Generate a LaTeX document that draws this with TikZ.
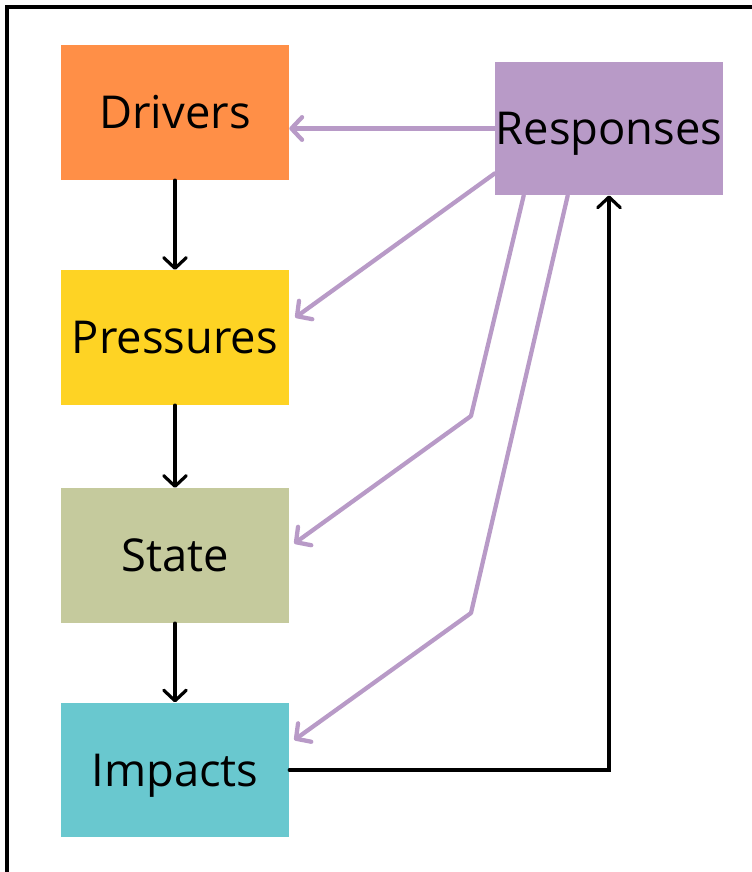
\documentclass[tikz,border=0pt]{standalone}
\usepackage{fontspec}
\setmainfont{Open Sans}
\usetikzlibrary{arrows.meta, calc}
\definecolor{corange}{HTML}{FF8F47}
\definecolor{cyellow}{HTML}{FED324}
\definecolor{csage}{HTML}{C5CA9D}
\definecolor{cteal}{HTML}{69C8CF}
\definecolor{clilac}{HTML}{B89AC7}
\tikzset{
  box/.style={fill=#1, minimum width=171pt, minimum height=101pt, inner sep=0pt,
    font=\fontsize{34}{40}\selectfont, text height=24pt, text depth=0pt},
  flow/.style={-{Straight Barb[length=8pt, width=17pt, round]}, draw=black, line width=2.4pt, line cap=round},
  back/.style={flow, draw=clilac, line width=3.2pt, line join=round},
}

\begin{document}
\begin{tikzpicture}[x=0.75pt, y=-0.75pt]
  \useasboundingbox (0,0) rectangle (752,872);
  % frame, cut off at the right and bottom
  \draw[line width=2.4pt] (7,7) rectangle (790,910);
  % DPSIR chain
  \node[box=corange] (drv) at (175,112.5) {Drivers};
  \node[box=cyellow] (prs) at (175,337.5) {Pressures};
  \node[box=csage] (sta) at (175,555.5) {State};
  \node[box=cteal] (imp) at (175,770) {Impacts};
  \node[box=clilac, minimum height=100pt] (rsp) at (609,128.5) {Responses};
  \draw[flow] (drv) -- (prs);
  \draw[flow] (prs) -- (sta);
  \draw[flow] (sta) -- (imp);
  \draw[flow] (imp.east) -| (rsp.south);
  % feedback from responses
  \coordinate (k1) at (471,416);
  \coordinate (k2) at (471,613);
  \draw[back] (rsp.west) -- (rsp.west -| drv.east);
  \draw[back] ($(rsp.south west)+(0,-22)$) -- ($(prs.east)+(6,-20)$);
  \draw[back] ($(rsp.south west)+(29,0)$) -- (k1) -- ($(sta.east)+(5,-12)$);
  \draw[back] ($(rsp.south west)+(73,0)$) -- (k2) -- ($(imp.east)+(5,-30)$);
\end{tikzpicture}
\end{document}
